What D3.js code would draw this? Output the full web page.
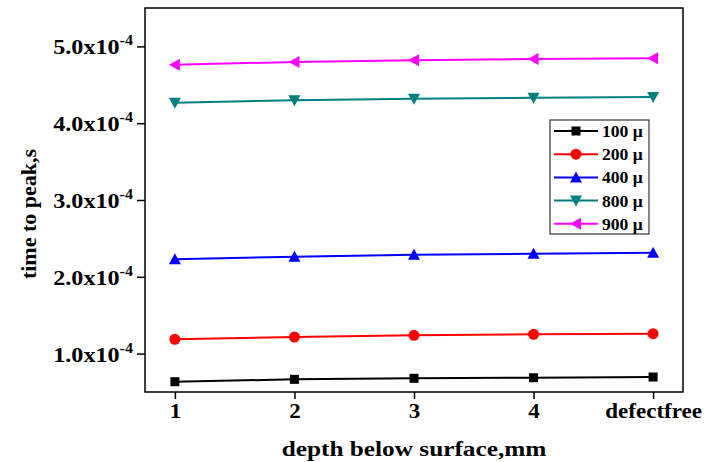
<html>
<head>
<meta charset="utf-8">
<title>time to peak</title>
<style>
 body{ margin:0; background:#fff; }
 text{ font-family:'Liberation Serif', 'Times New Roman', serif; font-weight:bold; fill:#000; }
</style>
<script src="https://cdnjs.cloudflare.com/ajax/libs/d3/7.8.5/d3.min.js"></script>
</head>
<body>
<div id="plot"></div>
<script>
  // data
  var depths = ["1", "2", "3", "4", "defectfree"];
  var s100 = [0.634e-4, 0.665e-4, 0.678e-4, 0.686e-4, 0.695e-4];
  var s200 = [1.186e-4, 1.216e-4, 1.238e-4, 1.251e-4, 1.259e-4];
  var s400 = [2.228e-4, 2.262e-4, 2.288e-4, 2.301e-4, 2.314e-4];
  var s800 = [4.267e-4, 4.298e-4, 4.319e-4, 4.332e-4, 4.341e-4];
  var s900 = [4.762e-4, 4.797e-4, 4.819e-4, 4.836e-4, 4.845e-4];
  var seriesNames = ["100 \u03bc", "200 \u03bc", "400 \u03bc", "800 \u03bc", "900 \u03bc"];
  var yTicks = [1e-4, 2e-4, 3e-4, 4e-4, 5e-4];

  var series = [
    {name: seriesNames[0], values: s100, color: "#000000", shape: "square"},
    {name: seriesNames[1], values: s200, color: "#ff0000", shape: "circle"},
    {name: seriesNames[2], values: s400, color: "#0000ff", shape: "up"},
    {name: seriesNames[3], values: s800, color: "#008080", shape: "down"},
    {name: seriesNames[4], values: s900, color: "#ff00ff", shape: "left"}
  ];

  var w = 712, h = 462;
  var mLeft = 145, mRight = 683, mTop = 8, mBottom = 392;
  var sx = 1.15; // the figure's lettering is a bit wide

  var svg = d3.select("#plot").append("svg")
      .attr("width", w)
      .attr("height", h);

  var x = d3.scaleLinear().domain([0.75, 5.25]).range([mLeft, mRight]);
  var y = d3.scaleLinear().domain([0.5e-4, 5.5e-4]).range([mBottom, mTop]);

  // x axis
  var xAxis = d3.axisBottom(x)
      .tickValues([1, 2, 3, 4, 5])
      .tickSize(7)
      .tickPadding(5)
      .tickFormat(function(d) { return depths[d - 1]; });
  var gx = svg.append("g")
      .attr("transform", "translate(0," + mBottom + ")")
      .call(xAxis);
  gx.select(".domain").remove();
  gx.selectAll("line").attr("stroke", "#000").attr("stroke-width", 1.5);
  gx.selectAll("text")
      .attr("transform", "scale(" + sx + ",1)")
      .style("font-size", "20px")
      .style("font-family", "'Liberation Serif', serif").style("font-weight", "bold");

  // y axis
  var yAxis = d3.axisLeft(y)
      .tickValues(yTicks)
      .tickSize(8)
      .tickFormat("");
  var gy = svg.append("g")
      .attr("transform", "translate(" + mLeft + ",0)")
      .call(yAxis);
  gy.select(".domain").remove();
  gy.selectAll("line").attr("stroke", "#000").attr("stroke-width", 1.5);

  var ylab = svg.selectAll(".ylab").data(yTicks).enter().append("text")
      .attr("class", "ylab")
      .attr("transform", function(d) { return "translate(" + (mLeft - 12) + "," + (y(d) + 8) + ") scale(" + sx + ",1)"; })
      .attr("text-anchor", "end")
      .style("font-size", "21px");
  ylab.append("tspan").text(function(d) { return (d * 1e4).toFixed(1) + "x10"; });
  ylab.append("tspan").attr("dy", -9).style("font-size", "14px").text("-4");

  // frame
  svg.append("rect")
      .attr("x", mLeft).attr("y", mTop)
      .attr("width", mRight - mLeft).attr("height", mBottom - mTop)
      .attr("fill", "none").attr("stroke", "#000").attr("stroke-width", 1.5);

  // axis titles
  svg.append("text")
      .attr("transform", "translate(" + ((mLeft + mRight) / 2) + ",456) scale(" + sx + ",1)")
      .attr("text-anchor", "middle")
      .style("font-size", "22px")
      .text("depth below surface,mm");

  svg.append("text")
      .attr("transform", "translate(36,214) rotate(-90)")
      .attr("text-anchor", "middle")
      .style("font-size", "22px")
      .text("time to peak,s");

  function marker(g, shape, color) {
    if (shape === "square") {
      g.append("rect").attr("x", -4.5).attr("y", -4.5).attr("width", 9).attr("height", 9).attr("fill", color);
    } else if (shape === "circle") {
      g.append("circle").attr("r", 5.5).attr("fill", color);
    } else if (shape === "up") {
      g.append("path").attr("d", "M0,-6L6,5L-6,5Z").attr("fill", color);
    } else if (shape === "down") {
      g.append("path").attr("d", "M0,6L6,-5L-6,-5Z").attr("fill", color);
    } else {
      g.append("path").attr("d", "M-6,0L5,-6L5,6Z").attr("fill", color);
    }
  }

  var line = d3.line()
      .x(function(d, i) { return x(i + 1); })
      .y(function(d) { return y(d); });

  series.forEach(function(s) {
    svg.append("path")
      .attr("d", line(s.values))
      .attr("fill", "none")
      .attr("stroke", s.color)
      .attr("stroke-width", 2);
    s.values.forEach(function(v, i) {
      var g = svg.append("g").attr("transform", "translate(" + x(i + 1) + "," + y(v) + ")");
      marker(g, s.shape, s.color);
    });
  });

  // legend
  var lg = svg.append("g");
  lg.append("rect")
    .attr("x", 550).attr("y", 120).attr("width", 99).attr("height", 114)
    .attr("fill", "#fff").attr("stroke", "#333").attr("stroke-width", 1.2);
  series.forEach(function(s, i) {
    var yy = 131 + i * 23.2;
    lg.append("line")
      .attr("x1", 554).attr("x2", 598).attr("y1", yy).attr("y2", yy)
      .attr("stroke", s.color).attr("stroke-width", 2);
    var g = lg.append("g").attr("transform", "translate(576," + yy + ")");
    marker(g, s.shape, s.color);
    lg.append("text")
      .attr("transform", "translate(602," + (yy + 6) + ") scale(1.1,1)")
      .style("font-size", "16px")
      .text(s.name);
  });
</script>
</body>
</html>
